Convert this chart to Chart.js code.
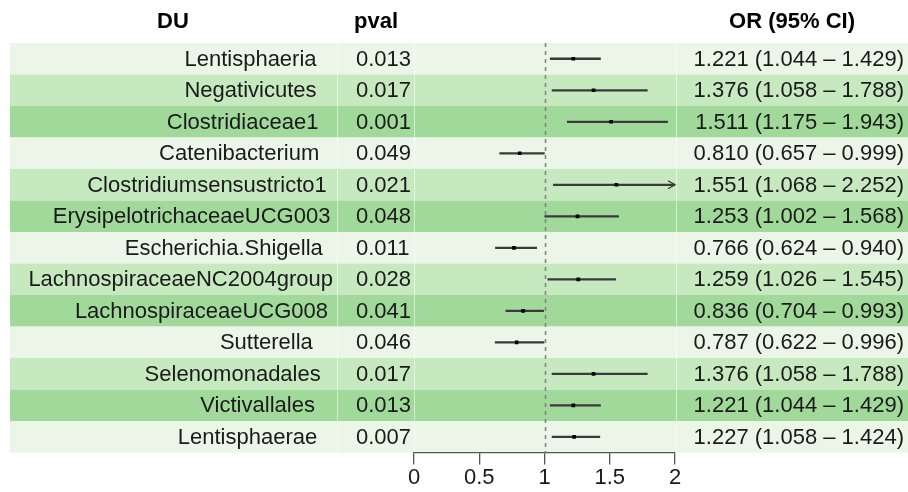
<!DOCTYPE html>
<html>
<head>
<meta charset="utf-8">
<script src="https://cdn.jsdelivr.net/npm/chart.js@4/dist/chart.umd.min.js"></script>
<style>
  body { margin: 0; background: #fff; }
  canvas { display: block; }
</style>
</head>
<body>
<canvas id="forestChart" width="908" height="492"></canvas>
<script>
// du rows, top to bottom
var rowNames = ['Lentisphaeria', 'Negativicutes', 'Clostridiaceae1', 'Catenibacterium',
    'Clostridiumsensustricto1', 'ErysipelotrichaceaeUCG003', 'Escherichia.Shigella',
    'LachnospiraceaeNC2004group', 'LachnospiraceaeUCG008', 'Sutterella',
    'Selenomonadales', 'Victivallales', 'Lentisphaerae'];
var pValues = [0.013, 0.017, 0.001, 0.049, 0.021, 0.048, 0.011, 0.028, 0.041, 0.046, 0.017, 0.013, 0.007];
var oddsRatios = [1.221, 1.376, 1.511, 0.810, 1.551, 1.253, 0.766, 1.259, 0.836, 0.787, 1.376, 1.221, 1.227];
var ciLower = [1.044, 1.058, 1.175, 0.657, 1.068, 1.002, 0.624, 1.026, 0.704, 0.622, 1.058, 1.044, 1.058];
var ciUpper = [1.429, 1.788, 1.943, 0.999, 2.252, 1.568, 0.940, 1.545, 0.993, 0.996, 1.788, 1.429, 1.424];
var xTicks = [0, 0.5, 1, 1.5, 2];
var refValue = 1;

var rowColors = ['#ebf6e8', '#c7e9c0', '#a1d99b'];
var textFont = '22px "Liberation Sans", Arial, sans-serif';
var headFont = 'bold 22px "Liberation Sans", Arial, sans-serif';

// background rows, reference line, table text and arrows
var tablePlugin = {
    id: 'forestTable',
    beforeDraw: function(chart) {
        var ctx = chart.ctx;
        var y = chart.scales.y;
        var band = (chart.chartArea.bottom - chart.chartArea.top) / rowNames.length;
        ctx.save();
        rowNames.forEach(function(name, i) {
            var cy = y.getPixelForValue(i);
            ctx.fillStyle = rowColors[i % 3];
            ctx.fillRect(10, cy - band / 2, 898, band);
        });
        // thin cell separators
        ctx.strokeStyle = 'rgba(255,255,255,0.55)';
        ctx.lineWidth = 1;
        [337.5, 414.5, 676.5].forEach(function(sx) {
            ctx.beginPath();
            ctx.moveTo(sx, chart.chartArea.top);
            ctx.lineTo(sx, chart.chartArea.bottom);
            ctx.stroke();
        });
        ctx.restore();
    },
    beforeDatasetsDraw: function(chart) {
        var ctx = chart.ctx;
        var px = Math.round(chart.scales.x.getPixelForValue(refValue)) + 0.5;
        ctx.save();
        ctx.strokeStyle = '#808080';
        ctx.lineWidth = 1.5;
        ctx.setLineDash([4, 4]);
        ctx.beginPath();
        ctx.moveTo(px, chart.chartArea.top);
        ctx.lineTo(px, chart.chartArea.bottom);
        ctx.stroke();
        ctx.restore();
    },
    afterDraw: function(chart) {
        var ctx = chart.ctx;
        var x = chart.scales.x;
        var y = chart.scales.y;
        ctx.save();
        ctx.fillStyle = '#000';
        ctx.textBaseline = 'middle';
        ctx.font = headFont;
        ctx.textAlign = 'center';
        ctx.fillText('DU', 173, 22);
        ctx.fillText('OR (95% CI)', 792, 22);
        ctx.textAlign = 'left';
        ctx.fillText('pval', 354, 22);

        ctx.font = textFont;
        ctx.fillStyle = '#1a1a1a';
        rowNames.forEach(function(name, i) {
            var cy = y.getPixelForValue(i) + 1;
            // names sit at hjust 0.9 like the original table
            var w = ctx.measureText(name).width;
            ctx.textAlign = 'left';
            ctx.fillText(name, 304 - 0.905 * w, cy);
            ctx.fillText(pValues[i].toFixed(3), 356, cy);
            ctx.textAlign = 'right';
            ctx.fillText(oddsRatios[i].toFixed(3) + ' (' + ciLower[i].toFixed(3) + ' \u2013 ' + ciUpper[i].toFixed(3) + ')', 904, cy);

            // arrow when the interval runs past the axis
            if (ciUpper[i] > x.max) {
                var ax = x.getPixelForValue(x.max);
                var ay = y.getPixelForValue(i);
                ctx.strokeStyle = '#3a3a3a';
                ctx.lineWidth = 1.3;
                ctx.beginPath();
                ctx.moveTo(ax - 7, ay - 4);
                ctx.lineTo(ax, ay);
                ctx.lineTo(ax - 7, ay + 4);
                ctx.stroke();
            }
        });
        ctx.restore();
    }
};

var ctx = document.getElementById('forestChart').getContext('2d');
var myChart = new Chart(ctx, {
    type: 'bar',
    data: {
        labels: rowNames,
        datasets: [{
            type: 'scatter',
            label: 'OR',
            data: rowNames.map(function(n, i) { return { x: oddsRatios[i], y: n }; }),
            pointStyle: 'rect',
            pointRadius: 2.6,
            backgroundColor: '#000',
            borderColor: '#000',
            borderWidth: 0
        }, {
            label: '95% CI',
            data: rowNames.map(function(n, i) { return [ciLower[i], ciUpper[i]]; }),
            backgroundColor: '#3a3a3a',
            barThickness: 1.6,
            borderSkipped: false
        }]
    },
    options: {
        indexAxis: 'y',
        responsive: false,
        animation: false,
        layout: {
            padding: { left: 414, right: 233, top: 43, bottom: 0 }
        },
        plugins: {
            legend: { display: false },
            tooltip: { enabled: false }
        },
        scales: {
            y: {
                type: 'category',
                display: false
            },
            x: {
                type: 'linear',
                min: xTicks[0],
                max: xTicks[xTicks.length - 1],
                afterBuildTicks: function(scale) {
                    scale.ticks = xTicks.map(function(v) { return { value: v }; });
                },
                grid: {
                    drawOnChartArea: false,
                    drawTicks: true,
                    tickLength: 12,
                    color: '#555',
                    lineWidth: 1.3
                },
                border: { display: true, color: '#555', width: 1.3 },
                ticks: {
                    padding: 6,
                    color: '#1a1a1a',
                    font: { family: '"Liberation Sans", Arial, sans-serif', size: 22, lineHeight: 0.7 },
                    callback: function(value) { return String(value); }
                }
            }
        }
    },
    plugins: [tablePlugin]
});
</script>
</body>
</html>
